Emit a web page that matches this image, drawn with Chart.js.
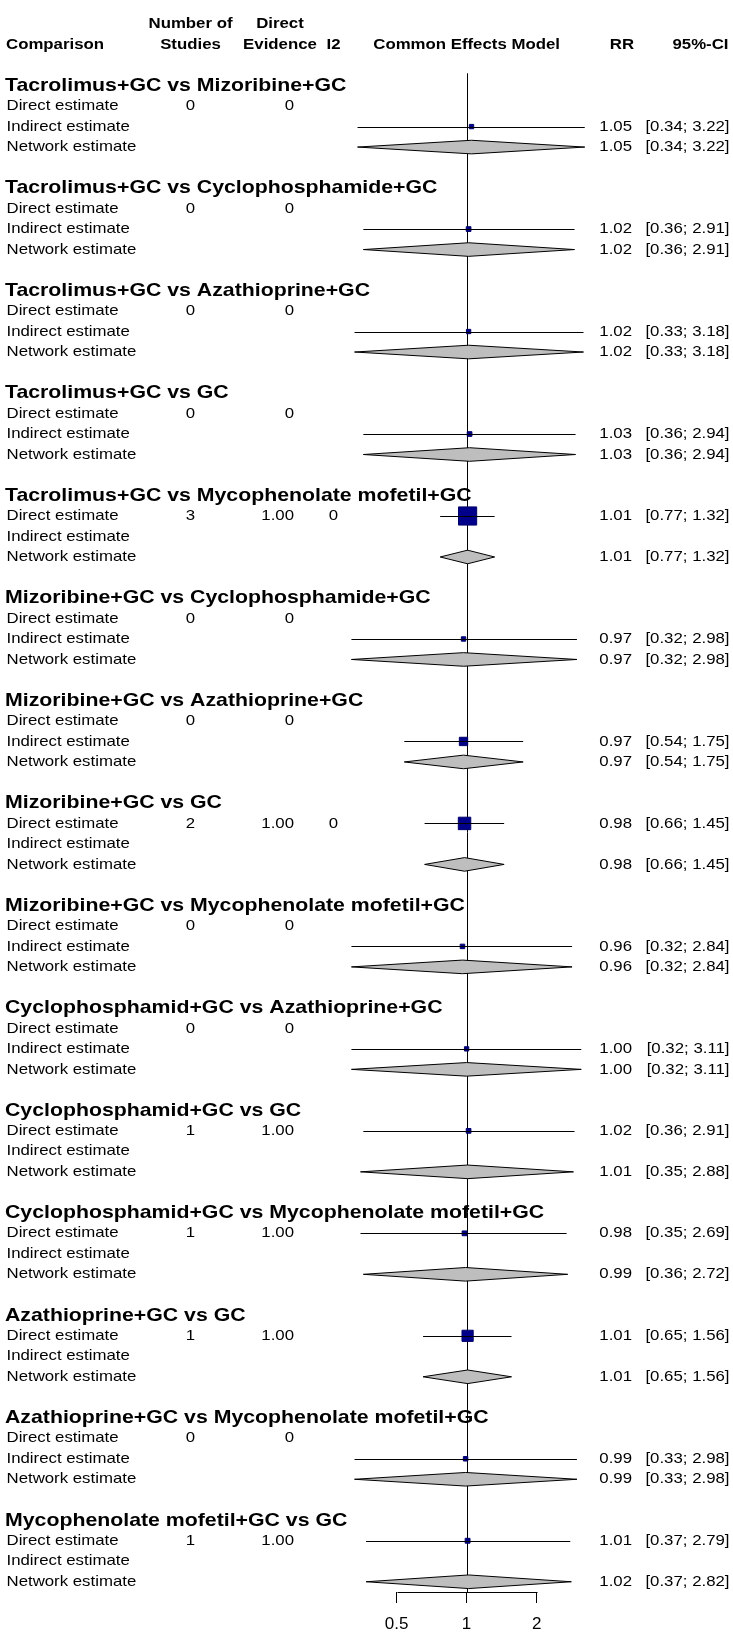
<!DOCTYPE html>
<html>
<head>
<meta charset="utf-8">
<script src="https://cdn.jsdelivr.net/npm/chart.js@4.4.1/dist/chart.umd.min.js"></script>
<style>
  html, body { margin: 0; padding: 0; background: #fff; overflow: hidden; }
  canvas { display: block; }
</style>
</head>
<body>
<canvas id="forest" width="733" height="1633"></canvas>
<script>
const comparisons = [
  'Tacrolimus+GC vs Mizoribine+GC',
  'Tacrolimus+GC vs Cyclophosphamide+GC',
  'Tacrolimus+GC vs Azathioprine+GC',
  'Tacrolimus+GC vs GC',
  'Tacrolimus+GC vs Mycophenolate mofetil+GC',
  'Mizoribine+GC vs Cyclophosphamide+GC',
  'Mizoribine+GC vs Azathioprine+GC',
  'Mizoribine+GC vs GC',
  'Mizoribine+GC vs Mycophenolate mofetil+GC',
  'Cyclophosphamid+GC vs Azathioprine+GC',
  'Cyclophosphamid+GC vs GC',
  'Cyclophosphamid+GC vs Mycophenolate mofetil+GC',
  'Azathioprine+GC vs GC',
  'Azathioprine+GC vs Mycophenolate mofetil+GC',
  'Mycophenolate mofetil+GC vs GC'
];
const nStudies = ['0', '0', '0', '0', '3', '0', '0', '2', '0', '0', '1', '1', '1', '0', '1'];
const directEvidence = ['0', '0', '0', '0', '1.00', '0', '0', '1.00', '0', '0', '1.00', '1.00', '1.00', '0', '1.00'];
const i2Values = ['', '', '', '', '0', '', '', '0', '', '', '', '', '', '', ''];

const directRR = [null, null, null, null, 1.01, null, null, 0.98, null, null, 1.02, 0.98, 1.01, null, 1.01];
const directLo = [null, null, null, null, 0.77, null, null, 0.66, null, null, 0.36, 0.35, 0.65, null, 0.37];
const directHi = [null, null, null, null, 1.32, null, null, 1.45, null, null, 2.91, 2.69, 1.56, null, 2.79];

const indirectRR = [1.05, 1.02, 1.02, 1.03, null, 0.97, 0.97, null, 0.96, 1.00, null, null, null, 0.99, null];
const indirectLo = [0.34, 0.36, 0.33, 0.36, null, 0.32, 0.54, null, 0.32, 0.32, null, null, null, 0.33, null];
const indirectHi = [3.22, 2.91, 3.18, 2.94, null, 2.98, 1.75, null, 2.84, 3.11, null, null, null, 2.98, null];

const networkRR = [1.05, 1.02, 1.02, 1.03, 1.01, 0.97, 0.97, 0.98, 0.96, 1.00, 1.01, 0.99, 1.01, 0.99, 1.02];
const networkLo = [0.34, 0.36, 0.33, 0.36, 0.77, 0.32, 0.54, 0.66, 0.32, 0.32, 0.35, 0.36, 0.65, 0.33, 0.37];
const networkHi = [3.22, 2.91, 3.18, 2.94, 1.32, 2.98, 1.75, 1.45, 2.84, 3.11, 2.88, 2.72, 1.56, 2.98, 2.82];

const axisTicks = [0.5, 1, 2];

// each comparison takes 5 rows: title, direct, indirect, network, blank
const rowOf = (g, r) => g * 5 + r;

const FONT = '"Liberation Sans", Arial, sans-serif';
const SX = 1.12; // the source text is a bit stretched horizontally

function drawText(ctx, str, x, y, align, font) {
  ctx.save();
  ctx.font = font;
  ctx.fillStyle = '#000';
  ctx.textAlign = align;
  ctx.textBaseline = 'middle';
  ctx.translate(x, y);
  ctx.scale(SX, 1);
  ctx.fillText(str, 0, 0);
  ctx.restore();
}

// square side follows the precision of the estimate
function squareSide(lo, hi) {
  const se = Math.log(hi / lo) / 3.92;
  return 2.5 / se;
}

const squares = [];
const squareRadius = [];
comparisons.forEach((c, g) => {
  if (directRR[g] !== null) {
    squares.push({x: directRR[g], y: rowOf(g, 1)});
    squareRadius.push(squareSide(directLo[g], directHi[g]) / Math.SQRT2);
  }
  if (indirectRR[g] !== null) {
    squares.push({x: indirectRR[g], y: rowOf(g, 2)});
    squareRadius.push(squareSide(indirectLo[g], indirectHi[g]) / Math.SQRT2);
  }
});

const fmt = v => v.toFixed(2);
const ciText = (lo, hi) => '[' + fmt(lo) + '; ' + fmt(hi) + ']';

const forestPlugin = {
  id: 'forest',
  beforeDatasetsDraw(chart) {
    const ctx = chart.ctx;
    const xs = chart.scales.x, ys = chart.scales.y;
    const x1 = Math.round(xs.getPixelForValue(1)) + 0.5;
    ctx.save();
    ctx.strokeStyle = '#000';
    ctx.lineWidth = 1;
    ctx.beginPath();
    ctx.moveTo(x1, ys.getPixelForValue(-0.6));
    ctx.lineTo(x1, chart.chartArea.bottom);
    ctx.stroke();
    ctx.restore();
  },
  afterDatasetsDraw(chart) {
    const ctx = chart.ctx;
    const xs = chart.scales.x, ys = chart.scales.y;
    const px = v => xs.getPixelForValue(v);
    const py = r => ys.getPixelForValue(r);

    ctx.save();
    ctx.strokeStyle = '#000';
    ctx.lineWidth = 1;

    // confidence intervals
    comparisons.forEach((c, g) => {
      const lines = [];
      if (directRR[g] !== null) lines.push([directLo[g], directHi[g], rowOf(g, 1)]);
      if (indirectRR[g] !== null) lines.push([indirectLo[g], indirectHi[g], rowOf(g, 2)]);
      lines.forEach(([lo, hi, r]) => {
        const y = Math.round(py(r)) + 0.5;
        ctx.beginPath();
        ctx.moveTo(px(lo), y);
        ctx.lineTo(px(hi), y);
        ctx.stroke();
      });
    });

    // network diamonds
    const h = 6.8;
    comparisons.forEach((c, g) => {
      const y = py(rowOf(g, 3));
      ctx.beginPath();
      ctx.moveTo(px(networkLo[g]), y);
      ctx.lineTo(px(networkRR[g]), y - h);
      ctx.lineTo(px(networkHi[g]), y);
      ctx.lineTo(px(networkRR[g]), y + h);
      ctx.closePath();
      ctx.fillStyle = '#BEBEBE';
      ctx.fill();
      ctx.stroke();
    });

    // axis bracket between the outer ticks
    const yb = Math.round(chart.chartArea.bottom) + 0.5;
    ctx.beginPath();
    ctx.moveTo(Math.round(px(axisTicks[0])) + 0.5, yb);
    ctx.lineTo(Math.round(px(axisTicks[axisTicks.length - 1])) + 0.5, yb);
    ctx.stroke();
    ctx.restore();

    // header
    const bold = 'bold 15px ' + FONT;
    const normal = '15px ' + FONT;
    const title = 'bold 19px ' + FONT;
    drawText(ctx, 'Comparison', 6, py(-2), 'left', bold);
    drawText(ctx, 'Number of', 190.5, py(-3), 'center', bold);
    drawText(ctx, 'Studies', 190.5, py(-2), 'center', bold);
    drawText(ctx, 'Direct', 280, py(-3), 'center', bold);
    drawText(ctx, 'Evidence', 280, py(-2), 'center', bold);
    drawText(ctx, 'I2', 333.5, py(-2), 'center', bold);
    drawText(ctx, 'Common Effects Model', px(1), py(-2), 'center', bold);
    drawText(ctx, 'RR', 622, py(-2), 'center', bold);
    drawText(ctx, '95%-CI', 728.5, py(-2), 'right', bold);

    comparisons.forEach((c, g) => {
      drawText(ctx, c, 5, py(rowOf(g, 0)), 'left', title);
      drawText(ctx, 'Direct estimate', 6.5, py(rowOf(g, 1)), 'left', normal);
      drawText(ctx, 'Indirect estimate', 6.5, py(rowOf(g, 2)), 'left', normal);
      drawText(ctx, 'Network estimate', 6.5, py(rowOf(g, 3)), 'left', normal);

      drawText(ctx, nStudies[g], 190.5, py(rowOf(g, 1)), 'center', normal);
      drawText(ctx, directEvidence[g], 294, py(rowOf(g, 1)), 'right', normal);
      if (i2Values[g]) drawText(ctx, i2Values[g], 333.5, py(rowOf(g, 1)), 'center', normal);

      const rows = [];
      if (directRR[g] !== null) rows.push([directRR[g], directLo[g], directHi[g], 1]);
      if (indirectRR[g] !== null) rows.push([indirectRR[g], indirectLo[g], indirectHi[g], 2]);
      rows.push([networkRR[g], networkLo[g], networkHi[g], 3]);
      rows.forEach(([rr, lo, hi, r]) => {
        drawText(ctx, fmt(rr), 632, py(rowOf(g, r)), 'right', normal);
        drawText(ctx, ciText(lo, hi), 729.5, py(rowOf(g, r)), 'right', normal);
      });
    });
  }
};

new Chart(document.getElementById('forest'), {
  type: 'scatter',
  data: {
    datasets: [{
      data: squares,
      pointStyle: 'rect',
      pointRadius: squareRadius,
      pointHoverRadius: squareRadius,
      backgroundColor: '#00008B',
      borderColor: '#00006A',
      borderWidth: 1
    }]
  },
  options: {
    responsive: false,
    animation: false,
    devicePixelRatio: 1,
    events: [],
    layout: { padding: 0 },
    plugins: { legend: { display: false }, tooltip: { enabled: false } },
    scales: {
      x: {
        type: 'logarithmic',
        bounds: 'data',
        min: 0.011337,
        max: 12.17,
        afterBuildTicks: s => { s.ticks = axisTicks.map(v => ({value: v})); },
        afterFit: s => { s.height = 41; },
        border: { display: false },
        grid: { display: true, drawOnChartArea: false, drawTicks: true, tickLength: 11, color: '#000', lineWidth: 1 },
        ticks: {
          callback: v => String(v),
          color: '#000',
          padding: 11,
          maxRotation: 0,
          autoSkip: false,
          major: { enabled: false },
          font: { family: FONT, size: 17 }
        }
      },
      y: {
        type: 'linear',
        display: false,
        reverse: true,
        bounds: 'data',
        min: -3.5,
        max: 73.5
      }
    }
  },
  plugins: [forestPlugin]
});
</script>
</body>
</html>
